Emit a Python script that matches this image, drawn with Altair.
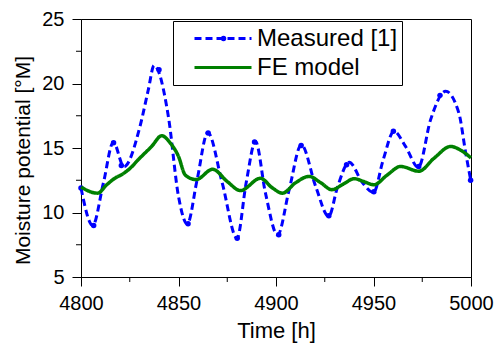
import altair as alt
import pandas as pd

# ---------------- data ----------------
series = ["Measured [1]", "FE model"]

meas_t = [4800, 4806, 4811.5, 4816.6, 4822, 4830.3, 4834.5, 4837.5, 4844.8, 4850,
          4854.5, 4859.5, 4865, 4872.4, 4880, 4884.7, 4889.5, 4894.6, 4900.8,
          4906.8, 4913, 4920.4, 4927, 4931.6, 4937.5, 4944.4, 4950, 4955,
          4960.5, 4966.5, 4973, 4979.3, 4987, 4993.8, 4997.3, 5000]
meas_v = [11.9, 9.0, 12.3, 15.45, 13.55, 16.7, 19.5, 21.4, 17.45, 11.25,
          9.1, 12.5, 16.2, 12.3, 8.0, 12.3, 15.5, 11.5, 8.25,
          11.8, 15.25, 12.0, 9.7, 12.0, 13.9, 12.3, 11.55, 14.1,
          16.3, 15.1, 13.5, 17.2, 19.4, 17.7, 14.6, 12.4]

mark_t = [4800, 4806.5, 4816.7, 4820.7, 4840, 4854.9, 4865.2, 4880.1, 4889,
          4901.4, 4912.9, 4927.1, 4936.2, 4950.2, 4960.2, 4973.2, 4984.1, 4999.8]
mark_v = [11.9, 9.0, 15.4, 13.65, 21.07, 9.13, 16.16, 8.0, 15.47,
          8.28, 15.2, 9.75, 13.7, 11.6, 16.29, 13.57, 19.08, 12.5]

fe_t = [4800, 4802, 4808.5, 4813.2, 4817.5, 4821, 4825, 4829.4, 4836.2, 4841.4,
        4845.7, 4850, 4853.5, 4859, 4867.5, 4875, 4881.8, 4892, 4898.2, 4903.3,
        4910, 4917, 4923, 4928.6, 4934.5, 4940.1, 4945, 4950.2, 4957, 4963.9,
        4973.3, 4981, 4989.6, 4995, 5000]
fe_v = [11.98, 11.8, 11.5, 12.15, 12.67, 12.95, 13.4, 14.1, 15.12, 15.95,
        15.4, 14.35, 12.9, 12.55, 13.35, 12.4, 11.7, 12.65, 11.9, 11.5,
        12.3, 12.8, 12.3, 11.77, 12.2, 12.62, 12.4, 12.15, 12.9, 13.57,
        13.2, 14.2, 15.12, 14.8, 14.23]

x_major = [4800, 4850, 4900, 4950, 5000]
x_minor = [4825, 4875, 4925, 4975]
y_major = [5, 10, 15, 20, 25]
y_minor = [7.5, 12.5, 17.5, 22.5]

colors = ["#0000FF", "#008000"]
dashes = [[7, 4], [1, 0]]
FONT = "Liberation Sans"

meas_df = pd.DataFrame({"t": meas_t, "v": meas_v, "series": series[0]})
fe_df = pd.DataFrame({"t": fe_t, "v": fe_v, "series": series[1]})
mark_df = pd.DataFrame({"t": mark_t, "v": mark_v, "mk": series[0]})

W, H = 390, 258

xscale = alt.Scale(domain=[4800, 5000], nice=False, zero=False)
yscale = alt.Scale(domain=[5, 25], nice=False, zero=False)

xaxis = alt.Axis(values=x_major, format="d", title="Time [h]", grid=False,
                 tickSize=9, labelPadding=7, labelFontSize=20, titleFontSize=22,
                 titleBaseline="alphabetic", titleY=60, labelFlush=False)
yaxis = alt.Axis(values=y_major, format="d", title="Moisture potential [°M]", grid=False,
                 tickSize=9, labelPadding=8, labelFontSize=20, titleFontSize=21,
                 titleBaseline="alphabetic", titleX=-52, titleY=141, titleAlign="center",
                 titleAngle=-90)

line_legend = alt.Legend(title=None, orient="none", legendX=92, legendY=2,
                         symbolType="stroke", symbolSize=3249, symbolStrokeWidth=3,
                         labelFontSize=24, labelFont=FONT, labelColor="black",
                         strokeColor="black", padding=4, clipHeight=27, rowPadding=2,
                         symbolOffset=16, labelOffset=4)

color_enc = alt.Color("series:N", scale=alt.Scale(domain=series, range=colors), legend=line_legend)
dash_enc = alt.StrokeDash("series:N", scale=alt.Scale(domain=series, range=dashes), legend=line_legend)

X = alt.X("t:Q", scale=xscale, axis=xaxis)
Y = alt.Y("v:Q", scale=yscale, axis=yaxis)

meas_line = alt.Chart(meas_df).mark_line(interpolate="monotone", strokeWidth=3).encode(
    x=X, y=Y, color=color_enc, strokeDash=dash_enc,
)

fe_line = alt.Chart(fe_df).mark_line(interpolate="monotone", strokeWidth=3.5).encode(
    x=X, y=Y, color=color_enc, strokeDash=dash_enc,
)

dot_legend = alt.Legend(title=None, orient="none", legendX=92, legendY=2,
                        symbolSize=30, symbolFillColor="#0000FF", symbolStrokeColor="#0000FF",
                        symbolStrokeWidth=0, labelFontSize=24, labelExpr="''",
                        padding=4, clipHeight=27, symbolOffset=34.5)

points = alt.Chart(mark_df).mark_point(filled=True, size=30, opacity=1, color="#0000FF").encode(
    x=X, y=Y,
    shape=alt.Shape("mk:N", scale=alt.Scale(domain=[series[0]], range=["circle"]), legend=dot_legend),
)

xminor = alt.Chart(pd.DataFrame({"t": x_minor})).mark_rule(color="black", strokeWidth=1).encode(
    x=X, y=alt.value(H), y2=alt.value(H + 5),
)
yminor = alt.Chart(pd.DataFrame({"v": y_minor})).mark_rule(color="black", strokeWidth=1).encode(
    y=Y, x=alt.value(0), x2=alt.value(-5),
)

chart = alt.layer(meas_line, points, fe_line, xminor, yminor).properties(
    width=W, height=H,
    autosize=alt.AutoSizeParams(type="none"),
    padding={"left": 81, "top": 19, "right": 503 - 81 - W, "bottom": 343 - 19 - H},
    background="white",
).configure_view(
    stroke="black", strokeWidth=1
).configure_axis(
    labelFont=FONT, titleFont=FONT, labelColor="black", titleColor="black",
    domainColor="black", tickColor="black", titleFontWeight="normal",
    domainWidth=1, tickWidth=1
).configure_legend(
    labelFont=FONT
)

chart.save("out.html", embed_options={"renderer": "svg", "actions": False})
